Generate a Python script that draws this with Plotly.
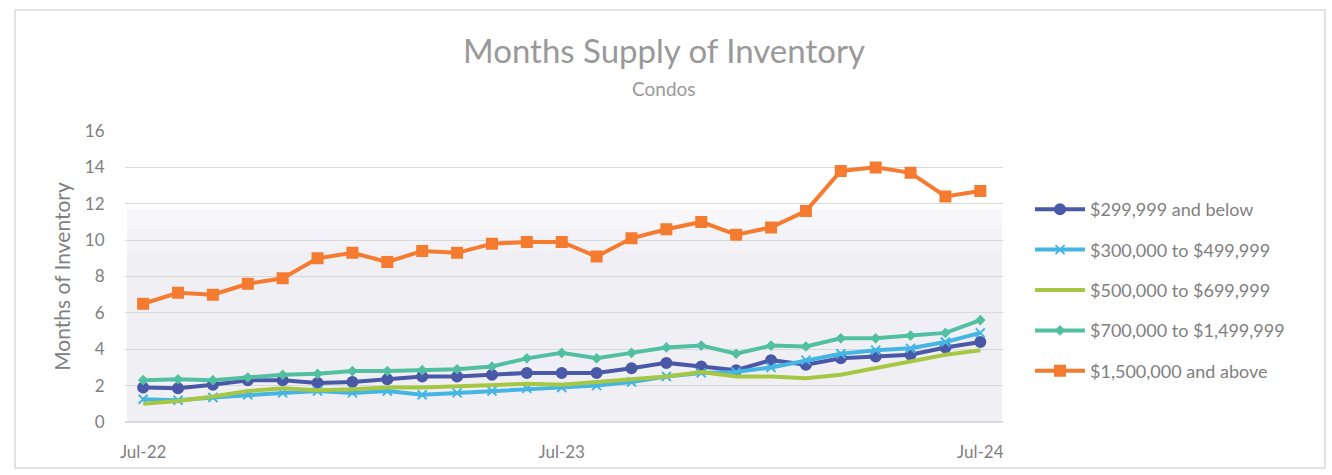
import plotly.graph_objects as go

# Monthly categories, Jul-22 through Jul-24
months = ["Jul-22", "Aug-22", "Sep-22", "Oct-22", "Nov-22", "Dec-22",
          "Jan-23", "Feb-23", "Mar-23", "Apr-23", "May-23", "Jun-23",
          "Jul-23", "Aug-23", "Sep-23", "Oct-23", "Nov-23", "Dec-23",
          "Jan-24", "Feb-24", "Mar-24", "Apr-24", "May-24", "Jun-24",
          "Jul-24"]
tick_labels = ["Jul-22", "Jul-23", "Jul-24"]

# Months supply of inventory by price band (condos)
under_300k = [1.9, 1.85, 2.05, 2.3, 2.3, 2.15, 2.2, 2.35, 2.5, 2.5, 2.6, 2.7,
              2.7, 2.7, 2.95, 3.25, 3.05, 2.85, 3.4, 3.15, 3.5, 3.6, 3.7, 4.1, 4.4]
from_300k = [1.25, 1.2, 1.35, 1.5, 1.6, 1.7, 1.6, 1.7, 1.5, 1.6, 1.7, 1.85,
             1.9, 2.0, 2.2, 2.5, 2.7, 2.75, 3.0, 3.4, 3.75, 3.95, 4.05, 4.4, 4.9]
from_500k = [1.0, 1.15, 1.4, 1.7, 1.85, 1.75, 1.8, 1.9, 1.9, 1.95, 2.0, 2.1,
             2.05, 2.2, 2.3, 2.5, 2.75, 2.5, 2.5, 2.4, 2.6, 2.95, 3.3, 3.7, 3.95]
from_700k = [2.3, 2.35, 2.3, 2.45, 2.6, 2.65, 2.8, 2.8, 2.85, 2.9, 3.05, 3.5,
             3.8, 3.5, 3.8, 4.1, 4.2, 3.75, 4.2, 4.15, 4.6, 4.6, 4.75, 4.9, 5.6]
over_1500k = [6.5, 7.1, 7.0, 7.6, 7.9, 9.0, 9.3, 8.8, 9.4, 9.3, 9.8, 9.9,
              9.9, 9.1, 10.1, 10.6, 11.0, 10.3, 10.7, 11.6, 13.8, 14.0, 13.7, 12.4, 12.7]

series = [
    ("$299,999 and below", under_300k, "#4a58a8", "circle", 10),
    ("$300,000 to $499,999", from_300k, "#45b5e3", "x-thin-open", 9),
    ("$500,000 to $699,999", from_500k, "#a6c744", None, 0),
    ("$700,000 to $1,499,999", from_700k, "#52c0a0", "diamond", 6),
    ("$1,500,000 and above", over_1500k, "#f47b2f", "square", 10),
]

FONT = "Lato"
GREY = "#808080"
W, H = 1332, 475
L, R, T, B = 125, 329, 131, 53
PW, PH = W - L - R, H - T - B


def px(x):
    return (x - L) / PW


def py(y):
    return (H - B - y) / PH


fig = go.Figure()
for i, (name, vals, color, sym, size) in enumerate(series):
    mode = "lines+markers" if sym else "lines"
    marker = dict(symbol=sym, size=size, color=color,
                  line=dict(color=color, width=2)) if sym else None
    fig.add_trace(go.Scatter(
        x=months, y=vals, name=name, mode=mode,
        line=dict(color=color, width=4),
        marker=marker, legendgroup=f"g{i}",
    ))

shapes = [
    # soft shading in the lower part of the plot area
    dict(type="rect", xref="paper", yref="y", x0=px(127), x1=px(1002),
         y0=0, y1=11.7, fillcolor="rgba(238,236,242,0.45)",
         line=dict(width=0), layer="below"),
    dict(type="rect", xref="paper", yref="y", x0=px(127), x1=px(1002),
         y0=0, y1=10.6, fillcolor="rgba(236,234,240,0.35)",
         line=dict(width=0), layer="below"),
    dict(type="rect", xref="paper", yref="y", x0=px(127), x1=px(1002),
         y0=0, y1=9.4, fillcolor="rgba(236,234,240,0.3)",
         line=dict(width=0), layer="below"),
    # chart frame
    dict(type="rect", xref="paper", yref="paper", x0=px(15), x1=px(1325),
         y0=py(468), y1=py(10), line=dict(color="#d9d9d9", width=1.5),
         fillcolor="rgba(0,0,0,0)", layer="below"),
]

fig.update_layout(
    width=W, height=H,
    margin=dict(l=L, r=R, t=T, b=B),
    paper_bgcolor="white", plot_bgcolor="white",
    font=dict(family=FONT, color=GREY, size=17),
    title=dict(text="Months Supply of Inventory", xref="container",
               x=664 / W, xanchor="center",
               yref="container", y=1 - 51 / H, yanchor="middle",
               font=dict(family=FONT, size=33, color="#999999")),
    annotations=[dict(text="Condos", xref="paper", yref="paper",
                      x=px(664), y=py(88), xanchor="center", yanchor="middle",
                      showarrow=False,
                      font=dict(family=FONT, size=19, color="#999999"))],
    shapes=shapes,
    showlegend=True,
    legend=dict(x=px(1030), y=py(191), xanchor="left", yanchor="top",
                font=dict(family=FONT, size=18, color=GREY),
                traceorder="grouped", tracegroupgap=14,
                bgcolor="rgba(0,0,0,0)", itemwidth=50),
)

fig.update_xaxes(
    type="category", categoryorder="array", categoryarray=months,
    range=[-0.52, 24.65], tickmode="array", tickvals=tick_labels,
    ticktext=tick_labels, showgrid=False, showline=False, zeroline=False,
    ticks="outside", ticklen=15, tickcolor="rgba(0,0,0,0)",
    tickfont=dict(family=FONT, size=17, color=GREY),
)
fig.update_yaxes(
    range=[0, 16], dtick=2, showgrid=True, gridcolor="#d9d9d9", gridwidth=1,
    zeroline=True, zerolinecolor="#d9d9d9", showline=False,
    ticks="outside", ticklen=16, tickcolor="rgba(0,0,0,0)",
    tickfont=dict(family=FONT, size=17, color=GREY),
    title=dict(text="Months of Inventory", standoff=8,
               font=dict(family=FONT, size=21, color=GREY)),
)

fig.write_html("out.html")
